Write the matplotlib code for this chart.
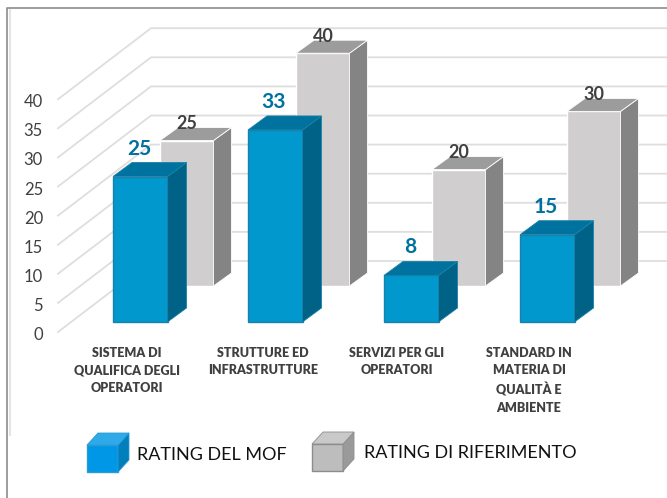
import matplotlib.pyplot as plt
from matplotlib.patches import Polygon

plt.rcParams['font.family'] = ['Lato', 'DejaVu Sans']

categorie = ["SISTEMA DI\nQUALIFICA DEGLI\nOPERATORI", "STRUTTURE ED\nINFRASTRUTTURE",
             "SERVIZI PER GLI\nOPERATORI", "STANDARD IN\nMATERIA DI\nQUALITÀ E\nAMBIENTE"]
rating_mof = [25, 33, 8, 15]
rating_rif = [25, 40, 20, 30]
ticks = [0, 5, 10, 15, 20, 25, 30, 35, 40]
serie_legenda = ["RATING DEL MOF", "RATING DI RIFERIMENTO"]

# tutto in pixel, come la figura
scala = 5.82
x_mof = [113, 248, 384, 520]
x_rif = [160, 296, 432, 567]
larg = 54.5
base_mof = 322
base_rif = 286
col_mof = dict(front='#0098CD', top='#00729F', side='#006286', edge='#1A82A8')
col_rif = dict(front='#D0CECE', top='#9C9C9C', side='#848484', edge='#FFFFFF')


def cubo(ax, x, y_base, y_top, w, dx, dy, col, z):
    ax.add_patch(Polygon([(x, y_base), (x+w, y_base), (x+w, y_top), (x, y_top)],
                         fc=col['front'], ec=col['edge'], lw=1, zorder=z))
    ax.add_patch(Polygon([(x+w, y_base), (x+w+dx, y_base-dy), (x+w+dx, y_top-dy), (x+w, y_top)],
                         fc=col['side'], ec=col['edge'], lw=0.6, zorder=z))
    ax.add_patch(Polygon([(x, y_top), (x+w, y_top), (x+w+dx, y_top-dy), (x+dx, y_top-dy)],
                         fc=col['top'], ec=col['edge'], lw=0.6, zorder=z))


fig = plt.figure(figsize=(6.67, 4.98), dpi=100)
ax = fig.add_axes([0, 0, 1, 1])
ax.set_xlim(0, 667)
ax.set_ylim(498, 0)
ax.axis('off')

# cornice
ax.plot([7, 7, 667], [498, 8, 8], color='#8C8C8C', lw=1.2, zorder=1)
ax.plot([9.5, 9.5], [10, 435], color='#E4E4E4', lw=1.5, zorder=1)

# griglia
for t in ticks:
    y_front = 332 - t*scala
    y_back = 261 - t*scala
    ax.plot([58, 151, 667], [y_front, y_back, y_back], color='#DEDEDE', lw=1.3, zorder=2)
    ax.text(43, y_front+3, str(t), ha='right', va='center',
            fontsize=12, color='#404040', zorder=3)

# barre dietro
for x, v in zip(x_rif, rating_rif):
    top = base_rif - v*scala
    cubo(ax, x, base_rif, top, larg-1, 18, 13, col_rif, 4)
    ax.text(x+27, top-17, str(v), ha='center', va='center', fontsize=13, fontweight='bold',
            color='#404040', zorder=6)

# barre davanti
for x, v in zip(x_mof, rating_mof):
    top = base_mof - v*scala
    cubo(ax, x, base_mof, top, larg, 19, 14, col_mof, 5)
    ax.text(x+26, top-28, str(v), ha='center', va='center', fontsize=15, fontweight='bold',
            color='#00719E', zorder=6)

# etichette categorie
for x, c in zip([127, 263, 397, 529], categorie):
    ax.text(x, 347, c, ha='center', va='top', fontsize=9, fontweight='heavy',
            color='#404040', linespacing=1.54)

# legenda
leg_blu = dict(front='#0098E6', top='#2FA9E8', side='#007FBC', edge='#2B9BD6')
leg_gri = dict(front='#BDBDBD', top='#C9C9C9', side='#9A9A9A', edge='#8C8C8C')
cubo(ax, 87, 472, 445, 31, 11, 12, leg_blu, 5)
cubo(ax, 312, 471, 444, 31, 11, 12, leg_gri, 5)
ax.text(137, 455, serie_legenda[0], ha='left', va='center', fontsize=13, color='#111111')
ax.text(364, 453, serie_legenda[1], ha='left', va='center', fontsize=13, color='#111111')

fig.savefig("out.png", dpi=100)
